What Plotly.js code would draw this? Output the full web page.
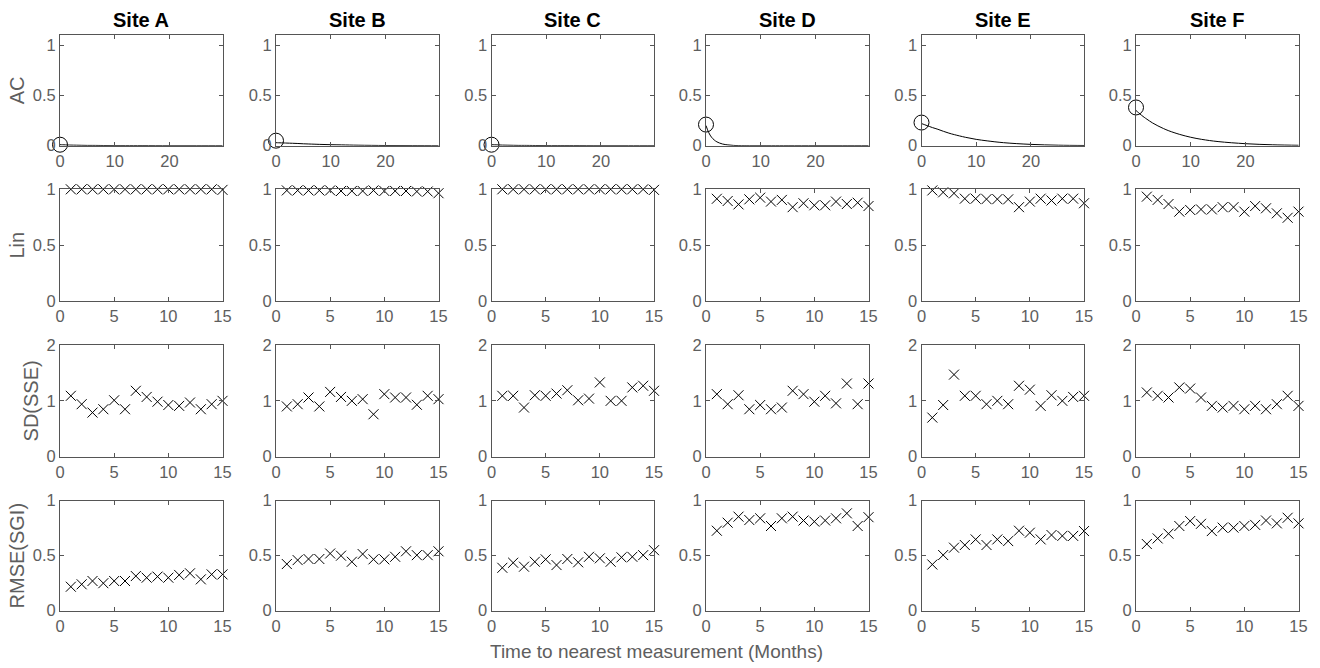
<!DOCTYPE html>
<html><head><meta charset="utf-8">
<script src="https://cdn.plot.ly/plotly-3.0.1.min.js"></script>
<style>html,body{margin:0;padding:0;background:#fff}</style>
</head><body><div id="chart" style="width:1320px;height:668px"></div>
<script>
// ---------------- data ----------------
const sites = ['Site A', 'Site B', 'Site C', 'Site D', 'Site E', 'Site F'];
const rowLabels = ['AC', 'Lin', 'SD(SSE)', 'RMSE(SGI)'];
const xTitle = 'Time to nearest measurement (Months)';

// AC row: lag-0 circle value and the decay curve (read at these lags)
const acLag = [0, 0.5, 1, 1.5, 2, 3, 4, 5, 6, 8, 10, 12, 15, 20, 25, 30];
const acStart = [0.01, 0.05, 0.01, 0.21, 0.23, 0.38];
const acA = [0.01, 0.009, 0.008, 0.007, 0.006, 0.005, 0.004, 0.003, 0.003, 0.002, 0.001, 0.001, 0.001, 0, 0, 0];
const acB = [0.03, 0.029, 0.028, 0.027, 0.026, 0.024, 0.022, 0.019, 0.017, 0.013, 0.010, 0.008, 0.005, 0.002, 0.001, 0];
const acC = [0.01, 0.009, 0.008, 0.007, 0.006, 0.005, 0.004, 0.003, 0.003, 0.002, 0.001, 0.001, 0.001, 0, 0, 0];
const acD = [0.20, 0.13, 0.085, 0.057, 0.038, 0.017, 0.008, 0.003, 0.001, 0, 0, 0, 0, 0, 0, 0];
const acE = [0.22, 0.21, 0.20, 0.19, 0.18, 0.163, 0.143, 0.125, 0.11, 0.084, 0.063, 0.048, 0.03, 0.013, 0.005, 0.002];
const acF = [0.35, 0.326, 0.303, 0.282, 0.263, 0.227, 0.197, 0.171, 0.148, 0.112, 0.084, 0.063, 0.041, 0.02, 0.009, 0.004];

// Lin / SD(SSE) / RMSE(SGI) rows, months 1..15
const months = [1, 2, 3, 4, 5, 6, 7, 8, 9, 10, 11, 12, 13, 14, 15];

const linA = [1.0, 1.0, 1.0, 1.0, 1.0, 1.0, 1.0, 1.0, 1.0, 1.0, 1.0, 1.0, 1.0, 1.0, 0.995];
const linB = [0.99, 0.99, 0.99, 0.99, 0.99, 0.985, 0.985, 0.985, 0.99, 0.985, 0.985, 0.985, 0.98, 0.98, 0.965];
const linC = [1.0, 1.0, 1.0, 1.0, 1.0, 1.0, 1.0, 1.0, 1.0, 1.0, 1.0, 1.0, 1.0, 1.0, 0.995];
const linD = [0.915, 0.895, 0.865, 0.91, 0.925, 0.89, 0.905, 0.84, 0.875, 0.857, 0.857, 0.89, 0.868, 0.88, 0.85];
const linE = [0.99, 0.973, 0.964, 0.916, 0.916, 0.912, 0.912, 0.91, 0.84, 0.89, 0.916, 0.90, 0.916, 0.916, 0.875];
const linF = [0.934, 0.905, 0.868, 0.80, 0.815, 0.82, 0.82, 0.84, 0.84, 0.80, 0.85, 0.83, 0.785, 0.745, 0.80];

const sdA = [1.09, 0.94, 0.79, 0.85, 1.01, 0.85, 1.18, 1.07, 0.985, 0.925, 0.91, 0.97, 0.85, 0.94, 1.0];
const sdB = [0.90, 0.94, 1.06, 0.90, 1.16, 1.07, 1.0, 1.03, 0.76, 1.12, 1.06, 1.06, 0.93, 1.09, 1.03];
const sdC = [1.09, 1.09, 0.88, 1.10, 1.09, 1.13, 1.19, 1.01, 1.04, 1.33, 1.0, 1.0, 1.24, 1.27, 1.18];
const sdD = [1.12, 0.94, 1.10, 0.85, 0.925, 0.85, 0.88, 1.18, 1.12, 0.985, 1.09, 0.955, 1.31, 0.94, 1.31];
const sdE = [0.70, 0.925, 1.47, 1.09, 1.09, 0.94, 1.0, 0.94, 1.27, 1.20, 0.91, 1.10, 1.0, 1.07, 1.09];
const sdF = [1.15, 1.09, 1.06, 1.24, 1.22, 1.06, 0.91, 0.88, 0.91, 0.85, 0.91, 0.85, 0.94, 1.09, 0.91];

const rmseA = [0.218, 0.24, 0.27, 0.25, 0.27, 0.27, 0.315, 0.30, 0.31, 0.30, 0.325, 0.34, 0.285, 0.33, 0.33];
const rmseB = [0.424, 0.46, 0.47, 0.47, 0.52, 0.50, 0.445, 0.515, 0.467, 0.467, 0.49, 0.54, 0.505, 0.505, 0.54];
const rmseC = [0.39, 0.436, 0.40, 0.445, 0.467, 0.415, 0.47, 0.44, 0.49, 0.476, 0.445, 0.485, 0.49, 0.505, 0.55];
const rmseD = [0.727, 0.80, 0.855, 0.824, 0.84, 0.77, 0.84, 0.855, 0.82, 0.81, 0.82, 0.84, 0.885, 0.77, 0.85];
const rmseE = [0.42, 0.506, 0.573, 0.597, 0.648, 0.597, 0.648, 0.633, 0.727, 0.709, 0.648, 0.688, 0.68, 0.68, 0.724];
const rmseF = [0.606, 0.657, 0.70, 0.77, 0.815, 0.79, 0.724, 0.755, 0.755, 0.77, 0.78, 0.82, 0.794, 0.845, 0.794];

const acCurves = [acA, acB, acC, acD, acE, acF];
const linVals = [linA, linB, linC, linD, linE, linF];
const sdVals = [sdA, sdB, sdC, sdD, sdE, sdF];
const rmseVals = [rmseA, rmseB, rmseC, rmseD, rmseE, rmseF];
const rowData = [null, linVals, sdVals, rmseVals];

// ---------------- layout geometry ----------------
const W = 1320, H = 668;
const colLeft = [60, 276, 491.5, 706, 921.5, 1136];
const colW = 162.5;
const rowPx = [[35, 145.7], [189.3, 301], [345, 456.7], [500.7, 610.7]];
const yRanges = [[0, 1.1], [0, 1], [0, 2], [0, 1]];
const yTicks = [[0, 0.5, 1], [0, 0.5, 1], [0, 1, 2], [0, 0.5, 1]];
const axisCol = '#555555';
const textCol = '#5e5e5e';
const FONT = 'Liberation Sans, Arial, sans-serif';

const traces = [];
const layout = {
  width: W, height: H,
  margin: {l: 0, r: 0, t: 0, b: 0},
  paper_bgcolor: '#fff', plot_bgcolor: '#fff',
  showlegend: false,
  font: {family: FONT, size: 16, color: textCol},
  annotations: []
};

for (let r = 0; r < 4; r++) {
  for (let c = 0; c < 6; c++) {
    const k = r * 6 + c + 1;
    const xn = k === 1 ? 'x' : 'x' + k;
    const yn = k === 1 ? 'y' : 'y' + k;
    const xk = k === 1 ? 'xaxis' : 'xaxis' + k;
    const yk = k === 1 ? 'yaxis' : 'yaxis' + k;
    const common = {
      showline: true, linecolor: axisCol, linewidth: 1, mirror: 'ticks',
      ticks: 'inside', ticklen: 4, tickwidth: 1, tickcolor: axisCol,
      showgrid: false, zeroline: false, fixedrange: true,
      tickfont: {family: FONT, size: 16.5, color: textCol}
    };
    layout[xk] = Object.assign({}, common, {
      domain: [colLeft[c] / W, (colLeft[c] + colW) / W],
      anchor: yn,
      range: r === 0 ? [0, 29.7] : [0, 15],
      tickvals: r === 0 ? [0, 10, 20] : [0, 5, 10, 15],
      ticktext: r === 0 ? ['0', '10', '20'] : ['0', '5', '10', '15']
    });
    layout[yk] = Object.assign({}, common, {
      domain: [1 - rowPx[r][1] / H, 1 - rowPx[r][0] / H],
      anchor: xn,
      range: yRanges[r],
      tickvals: yTicks[r],
      ticktext: yTicks[r].map(String)
    });
    if (c === 0) {
      layout[yk].title = {text: rowLabels[r], font: {family: FONT, size: 20, color: textCol}, standoff: 2};
    }

    if (r === 0) {
      traces.push({
        type: 'scatter', mode: 'lines', x: acLag, y: acCurves[c],
        xaxis: xn, yaxis: yn, line: {color: '#000', width: 1, shape: 'spline'},
        cliponaxis: false, hoverinfo: 'skip'
      });
      traces.push({
        type: 'scatter', mode: 'markers', x: [0], y: [acStart[c]],
        xaxis: xn, yaxis: yn, cliponaxis: false,
        marker: {symbol: 'circle-open', size: 15, color: '#000', line: {color: '#000', width: 1}}
      });
    } else {
      traces.push({
        type: 'scatter', mode: 'markers', x: months, y: rowData[r][c],
        xaxis: xn, yaxis: yn, cliponaxis: false,
        marker: {symbol: 'x-thin', size: 10, color: '#000', line: {color: '#000', width: 1}}
      });
    }
  }
}

sites.forEach((s, c) => {
  layout.annotations.push({
    text: '<b>' + s + '</b>', xref: 'paper', yref: 'paper',
    x: (colLeft[c] + colW / 2) / W, y: 1 - 20 / H,
    xanchor: 'center', yanchor: 'middle', showarrow: false,
    font: {family: FONT, size: 20, color: '#000'}
  });
});
layout.annotations.push({
  text: xTitle, xref: 'paper', yref: 'paper',
  x: 656 / W, y: 1 - 651 / H, xanchor: 'center', yanchor: 'middle',
  showarrow: false, font: {family: FONT, size: 19, color: textCol}
});

Plotly.newPlot('chart', traces, layout, {displayModeBar: false, staticPlot: true});
</script></body></html>
